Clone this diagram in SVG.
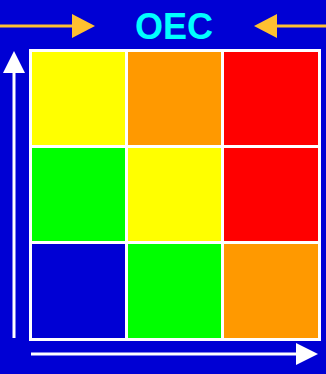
<svg xmlns="http://www.w3.org/2000/svg" width="326" height="374" viewBox="0 0 326 374">
<style>
.w{fill:#fff}
.ar{stroke:#fff;stroke-width:3;fill:none}
.go{stroke:#FFC030;stroke-width:3;fill:none}
.y{fill:#FFFF00}.o{fill:#FF9900}.r{fill:#FF0000}.g{fill:#00FF00}.b{fill:#0000D4}
.t{font-family:"Liberation Sans",Arial,sans-serif;font-weight:bold;font-size:36px;fill:#00FFFF}
</style>
<rect width="326" height="374" fill="#0000D4"/>
<g id="title"><text class="t" x="174" y="39" text-anchor="middle">OEC</text></g>
<g id="connectors">
<line class="go" x1="0" y1="26" x2="73" y2="26"/>
<polygon points="72,14 95,26 72,38" fill="#FFC030"/>
<line class="go" x1="276" y1="26" x2="326" y2="26"/>
<polygon points="277,14 254,26 277,38" fill="#FFC030"/>
<line class="ar" x1="14" y1="338" x2="14" y2="72"/>
<polygon points="3,73 14,51 25,73" class="w"/>
<line class="ar" x1="31" y1="354" x2="297" y2="354"/>
<polygon points="296,343 318,354 296,365" class="w"/>
</g>
<g id="grid">
<rect class="w" x="29" y="49" width="292" height="292"/>
<rect id="c11" class="y" x="32" y="52" width="93" height="93"/>
<rect id="c12" class="o" x="128" y="52" width="93" height="93"/>
<rect id="c13" class="r" x="224" y="52" width="94" height="93"/>
<rect id="c21" class="g" x="32" y="148" width="93" height="93"/>
<rect id="c22" class="y" x="128" y="148" width="93" height="93"/>
<rect id="c23" class="r" x="224" y="148" width="94" height="93"/>
<rect id="c31" class="b" x="32" y="244" width="93" height="94"/>
<rect id="c32" class="g" x="128" y="244" width="93" height="94"/>
<rect id="c33" class="o" x="224" y="244" width="94" height="94"/>
</g>
</svg>
